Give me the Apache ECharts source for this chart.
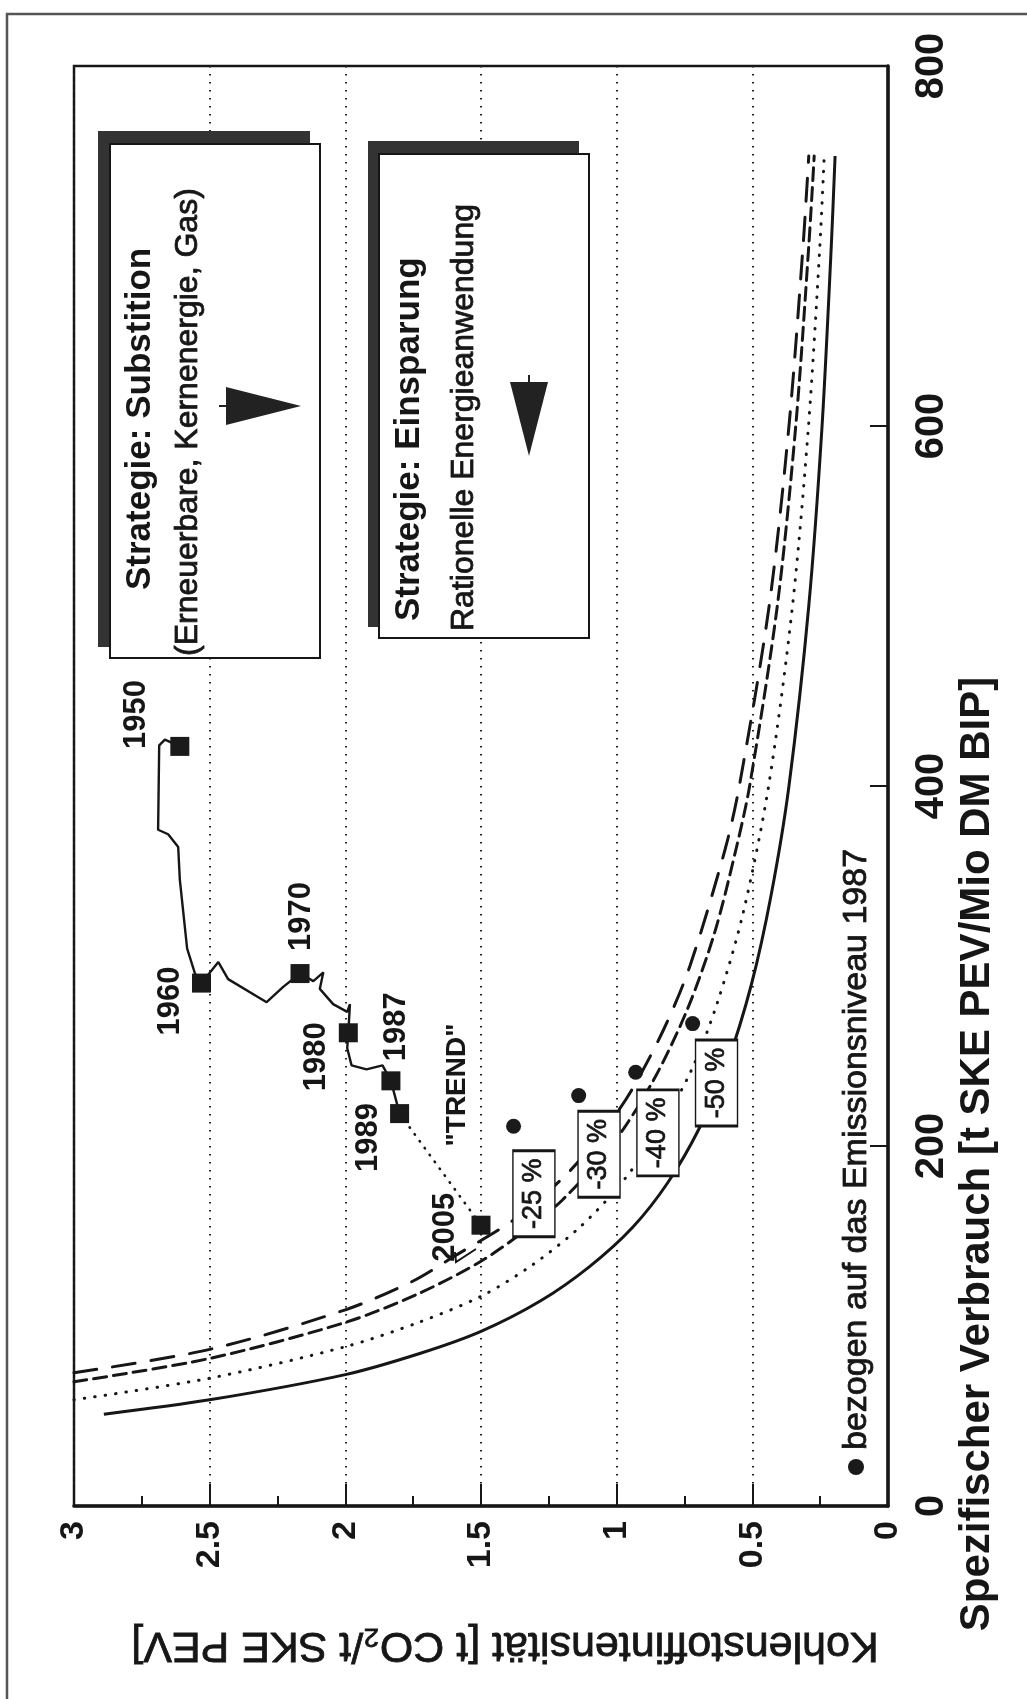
<!DOCTYPE html>
<html>
<head>
<meta charset="utf-8">
<title>Kohlenstoffintensität und spezifischer Verbrauch</title>
<script src="https://cdn.jsdelivr.net/npm/echarts@6/dist/echarts.min.js"></script>
<style>
  html, body { margin: 0; padding: 0; background: #fff; }
  #chart { width: 1027px; height: 1699px; }
</style>
</head>
<body>
<div id="chart"></div>
<script>
// the figure is printed turned by 90 degrees:
// Kohlenstoffintensität (0..3) runs right-to-left along the bottom,
// spezifischer Verbrauch (0..800) runs bottom-to-top on the right.

// historic course 1950-1989 (K = t CO2/t SKE, V = t SKE/Mio DM)
const pathK = [2.61, 2.665, 2.686, 2.69, 2.653, 2.616, 2.61, 2.583, 2.554, 2.53,
  2.468, 2.432, 2.29, 2.229, 2.167, 2.118, 2.081, 2.094, 2.045, 1.993, 1.983,
  1.989, 1.993, 1.977, 1.922, 1.863, 1.832, 1.8];
const pathV = [422, 425.8, 422.6, 375.7, 373.2, 366.1, 348, 309.7, 295.8, 290.5,
  302.2, 292.7, 279.9, 288.4, 295.8, 291.6, 296.5, 287.3, 278.8, 274.5, 278.8,
  262.9, 254.3, 244.8, 242.6, 244.8, 236.2, 218];

const years = ['1950', '1960', '1970', '1980', '1987', '1989', '2005'];
const yearK = [2.61, 2.53, 2.167, 1.989, 1.832, 1.8, 1.5];
const yearV = [422, 290.5, 295.8, 262.9, 236.2, 218, 156];

const trendK = [1.8, 1.5];
const trendV = [218, 156];

// reduction curves
const cut50K = [2.89, 2.5, 2.0, 1.72, 1.5, 1.28, 1.1, 0.94, 0.81, 0.695, 0.595, 0.503, 0.43, 0.365, 0.292, 0.243, 0.209, 0.195];
const cut50V = [51, 59, 73, 85, 97, 114, 133, 155, 180, 210, 245, 290, 340, 400, 500, 600, 700, 750];
const cut40K = [3.0, 2.5, 2.0, 1.73, 1.5, 1.31, 1.135, 0.99, 0.86, 0.725, 0.628, 0.533, 0.44, 0.352, 0.293, 0.251, 0.235];
const cut40V = [59, 71, 88.5, 102, 116.5, 134, 155, 178, 205, 242, 280, 330, 400, 500, 600, 700, 750];
const cut30K = [3.0, 2.5, 2.0, 1.73, 1.5, 1.32, 1.2, 1.02, 0.87, 0.742, 0.64, 0.56, 0.51, 0.408, 0.34, 0.292, 0.272];
const cut30V = [69, 82, 102, 118, 136, 155, 170, 200, 235, 275, 318, 365, 400, 500, 600, 700, 750];
const cut25K = [3.0, 2.5, 2.0, 1.75, 1.6, 1.37, 1.18, 1.04, 0.945, 0.826, 0.73, 0.6, 0.548, 0.438, 0.365, 0.313, 0.292];
const cut25V = [74, 87, 109, 125, 138.6, 160, 185, 210, 231, 265, 300, 365, 400, 500, 600, 700, 750];

// points "bezogen auf das Emissionsniveau 1987"
const goalK = [1.38, 1.14, 0.93, 0.72];
const goalV = [211, 228, 241, 268];

const pctNames = ['-25 %', '-30 %', '-40 %', '-50 %'];
const pctK = [1.305, 1.065, 0.848, 0.632];
const pctV = [173.5, 195.4, 207.3, 235];

const FONT = "'Liberation Sans', Arial, Helvetica, sans-serif";
const INK = '#161616';

const pairs = (ks, vs) => ks.map((k, i) => [k, vs[i]]);

const chart = echarts.init(document.getElementById('chart'));

const curve = (name, ks, vs, type) => ({
  type: 'line',
  name: name,
  data: pairs(ks, vs),
  smooth: 0.3,
  showSymbol: false,
  silent: true,
  lineStyle: { color: INK, width: 3, type: type, cap: type === 'solid' ? 'butt' : 'round' },
  z: 3
});

chart.setOption({
  animation: false,
  backgroundColor: '#fff',
  grid: {
    left: 74, right: 139, top: 66, bottom: 193,
    show: true, borderColor: INK, borderWidth: 2.5
  },
  xAxis: {
    type: 'value',
    min: 0, max: 3, interval: 0.5,
    inverse: true,
    position: 'bottom',
    axisLine: { lineStyle: { color: INK, width: 3.5 } },
    axisTick: { inside: true, length: 22, lineStyle: { color: INK, width: 2 } },
    minorTick: { show: true, splitNumber: 2, length: 10, lineStyle: { color: INK, width: 2 } },
    axisLabel: {
      rotate: 90, margin: 15, color: INK,
      fontFamily: FONT, fontWeight: 'bold', fontSize: 34
    },
    splitLine: { show: true, lineStyle: { color: '#222', width: 2, type: [1.5, 6.5] } }
  },
  yAxis: {
    type: 'value',
    min: 0, max: 800, interval: 200,
    position: 'right',
    axisLine: { show: true, lineStyle: { color: INK, width: 3.5 } },
    axisTick: { show: true, inside: true, length: 18, lineStyle: { color: INK, width: 2 } },
    axisLabel: {
      rotate: 90, margin: 24, color: INK,
      fontFamily: FONT, fontWeight: 'bold', fontSize: 40
    },
    splitLine: { show: false }
  },
  series: [
    curve('-25 %', cut25K, cut25V, [23, 16]),
    curve('-30 %', cut30K, cut30V, [13, 7]),
    curve('-40 %', cut40K, cut40V, [0.5, 10]),
    curve('-50 %', cut50K, cut50V, 'solid'),
    {
      type: 'line',
      name: 'Verlauf',
      data: pairs(pathK, pathV),
      showSymbol: false,
      silent: true,
      lineStyle: { color: INK, width: 2.4 },
      z: 4
    },
    {
      type: 'line',
      name: 'TREND',
      data: pairs(trendK, trendV),
      showSymbol: false,
      silent: true,
      lineStyle: { color: INK, width: 2.6, type: [0.5, 8], cap: 'round' },
      z: 4
    },
    {
      type: 'scatter',
      name: 'Jahre',
      data: pairs(yearK, yearV),
      symbol: 'rect',
      symbolSize: 19,
      itemStyle: { color: '#1a1a1a', opacity: 1 },
      silent: true,
      z: 5
    },
    {
      type: 'scatter',
      name: 'Emissionsniveau 1987',
      data: pairs(goalK, goalV),
      symbol: 'circle',
      symbolSize: 15,
      itemStyle: { color: '#1a1a1a', opacity: 1 },
      silent: true,
      z: 5
    },
    {
      type: 'scatter',
      name: 'Reduktion',
      data: pctNames.map((n, i) => ({ name: n, value: [pctK[i], pctV[i]] })),
      symbol: 'rect',
      symbolSize: [42, 86],
      itemStyle: { color: '#fff', borderColor: INK, borderWidth: 2, opacity: 1 },
      label: {
        show: true, position: 'inside', rotate: 90,
        formatter: p => p.name,
        color: INK, fontFamily: FONT, fontSize: 27,
        textBorderColor: INK, textBorderWidth: 0.7
      },
      silent: true,
      z: 6
    }
  ]
});

// text that hangs on the data points
const yearOffset = [[-43, -32], [-31, 18], [1, -57], [-32, 24], [6, -54], [-31, 24], [-36, 2]];
const rotText = (x, y, text, size, weight, align, rot, medium) => {
  const style = {
    text: text, fill: INK,
    font: (weight || 'normal') + ' ' + size + 'px ' + FONT,
    align: align || 'center', verticalAlign: 'middle'
  };
  if (medium) {
    style.stroke = INK;
    style.lineWidth = 0.8;
  }
  return {
    type: 'text',
    x: x, y: y,
    rotation: rot === undefined ? Math.PI / 2 : rot,
    z: 20,
    style: style
  };
};

const graphics = [];

// outer frame of the figure (cut off at right and bottom)
graphics.push({
  type: 'polyline', z: 20,
  shape: { points: [[7, 1699], [7, 14], [1027, 14]] },
  style: { stroke: '#555', lineWidth: 2.5, fill: null }
});

years.forEach((y, i) => {
  const p = chart.convertToPixel({ gridIndex: 0 }, [yearK[i], yearV[i]]);
  graphics.push(rotText(p[0] + yearOffset[i][0], p[1] + yearOffset[i][1], y, 31, 'bold'));
});
graphics.push(rotText(457, 1085, '"TREND"', 28, 'bold'));
// little leader under the 2005 label
graphics.push({
  type: 'polyline', z: 20,
  shape: { points: [[455, 1252], [456, 1262], [476, 1249]] },
  style: { stroke: INK, lineWidth: 2, fill: null }
});

// strategy boxes
graphics.push(
  { type: 'rect', z: 18, shape: { x: 98, y: 131, width: 212, height: 516 }, style: { fill: '#333' } },
  { type: 'rect', z: 19, shape: { x: 110, y: 144, width: 210, height: 514 }, style: { fill: '#fff', stroke: INK, lineWidth: 2 } },
  rotText(140, 590, 'Strategie: Substition', 35, 'bold', 'left'),
  rotText(188, 656, '(Erneuerbare, Kernenergie, Gas)', 32, 'normal', 'left', undefined, true),
  { type: 'polygon', z: 20, shape: { points: [[226, 387], [226, 425], [301, 406]] }, style: { fill: '#222' } },
  { type: 'line', z: 20, shape: { x1: 219, y1: 406, x2: 226, y2: 406 }, style: { stroke: '#222', lineWidth: 2 } },

  { type: 'rect', z: 18, shape: { x: 368, y: 141, width: 211, height: 486 }, style: { fill: '#333' } },
  { type: 'rect', z: 19, shape: { x: 379, y: 154, width: 210, height: 484 }, style: { fill: '#fff', stroke: INK, lineWidth: 2 } },
  rotText(409, 621, 'Strategie: Einsparung', 35, 'bold', 'left'),
  rotText(464, 631, 'Rationelle Energieanwendung', 32, 'normal', 'left', undefined, true),
  { type: 'polygon', z: 20, shape: { points: [[510, 382], [548, 382], [529, 456]] }, style: { fill: '#222' } },
  { type: 'line', z: 20, shape: { x1: 529, y1: 375, x2: 529, y2: 382 }, style: { stroke: '#222', lineWidth: 2 } }
);

// legend note
graphics.push(
  { type: 'circle', z: 20, shape: { cx: 856, cy: 1467, r: 8 }, style: { fill: '#1a1a1a' } },
  rotText(857, 1450, 'bezogen auf das Emissionsniveau 1987', 34, 'normal', 'left', undefined, true)
);

// axis titles
graphics.push(
  rotText(977, 1154, 'Spezifischer Verbrauch [t SKE PEV/Mio DM BIP]', 42, 'bold'),
  rotText(505, 1645, 'Kohlenstoffintensität [t CO₂/t SKE PEV]', 43, 'normal', 'center', Math.PI, true)
);

chart.setOption({ graphic: graphics });
</script>
</body>
</html>
